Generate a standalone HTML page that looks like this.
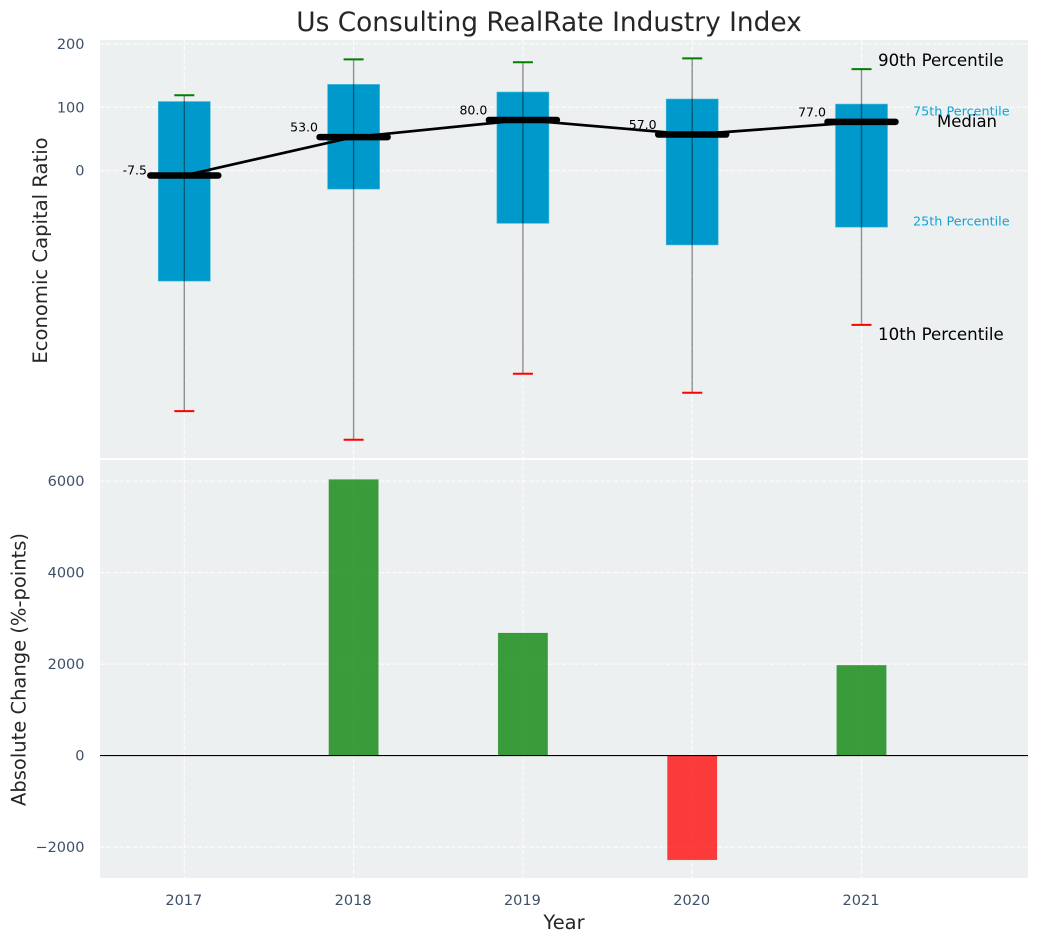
<!DOCTYPE html>
<html>
<head>
<meta charset="utf-8">
<title>Us Consulting RealRate Industry Index</title>
<style>
html,body{margin:0;padding:0;background:#fff;width:1039px;height:942px;overflow:hidden}
svg{display:block}
text{font-family:"DejaVu Sans","Liberation Sans",sans-serif}
</style>
</head>
<body>
<svg id="chart" width="1039" height="942" viewBox="0 0 1039 942" xmlns="http://www.w3.org/2000/svg"></svg>
<script>
const years = [2017, 2018, 2019, 2020, 2021];
const p90 = [119, 175.5, 171, 177, 160];
const p75 = [109, 136, 124, 113, 105];
const medians = [-7.5, 53, 80, 57, 77];
const p25 = [-174, -29, -83, -117, -89];
const p10 = [-379, -424, -320, -350, -243];
const changes = [null, 6035, 2680, -2280, 1975];
const topTicks = [0, 100, 200];
const bottomTicks = [-2000, 0, 2000, 4000, 6000];
const svg = document.getElementById('chart');
const NS = 'http://www.w3.org/2000/svg';
const plotLeft = 100, plotRight = 1028;
const topPanel = {y: 40, h: 418}, bottomPanel = {y: 460, h: 418};
const x = v => 184.3 + (v - 2017) * 169.3;
const yTop = v => 170.7 - v * 0.6345;
const yBottom = v => 755.6 - v * 0.04575;
const tickColor = '#3d5068';

function add(tag, attrs, text) {
  const el = document.createElementNS(NS, tag);
  for (const k in attrs) el.setAttribute(k, attrs[k]);
  if (text !== undefined) el.textContent = text;
  svg.appendChild(el);
  return el;
}

let el;
el = add('rect', {x: plotLeft, y: topPanel.y, width: plotRight - plotLeft, height: topPanel.h, fill: '#ecf0f1'});


el = add('rect', {x: plotLeft, y: bottomPanel.y, width: plotRight - plotLeft, height: bottomPanel.h, fill: '#ecf0f1'});



const gridAttrs = {stroke: '#fff', 'stroke-width': 1.2, 'stroke-dasharray': '4.5 2', opacity: 0.85};
topTicks.forEach(t => {
  el = add('line', {x1: plotLeft, x2: plotRight, y1: yTop(t), y2: yTop(t), ...gridAttrs});
  
  
  el = add('text', {x: 84.5, y: yTop(t) + 5, 'text-anchor': 'end', 'font-size': 14.5, fill: tickColor}, String(t));
  
  
});
bottomTicks.forEach(t => {
  el = add('line', {x1: plotLeft, x2: plotRight, y1: yBottom(t), y2: yBottom(t), ...gridAttrs});
  
  
  el = add('text', {x: 84.5, y: yBottom(t) + 5, 'text-anchor': 'end', 'font-size': 14.5, fill: tickColor}, String(t).replace('-', '\u2212'));
  
  
});
years.forEach(yr => {
  el = add('line', {x1: x(yr), x2: x(yr), y1: topPanel.y, y2: topPanel.y + topPanel.h, ...gridAttrs});
  
  
  el = add('line', {x1: x(yr), x2: x(yr), y1: bottomPanel.y, y2: bottomPanel.y + bottomPanel.h, ...gridAttrs});
  
  
  el = add('text', {x: x(yr) - 0.5, y: 905, 'text-anchor': 'middle', 'font-size': 14.5, fill: tickColor}, String(yr));
  
  
});

// Boxes, whiskers and caps
years.forEach((yr, i) => {
  const cx = x(yr);
  el = add('rect', {x: cx - 26, y: yTop(p75[i]), width: 52, height: yTop(p25[i]) - yTop(p75[i]), fill: '#0099cc', stroke: '#4db8dc', 'stroke-width': 0.6});
  
  
  el = add('line', {x1: cx, x2: cx, y1: yTop(p90[i]), y2: yTop(p10[i]), stroke: '#000', 'stroke-opacity': 0.42, 'stroke-width': 1.4});
  
  
  el = add('line', {x1: cx - 10, x2: cx + 10, y1: yTop(p90[i]), y2: yTop(p90[i]), stroke: '#008000', 'stroke-width': 2});
  
  
  el = add('line', {x1: cx - 10, x2: cx + 10, y1: yTop(p10[i]), y2: yTop(p10[i]), stroke: '#ff0000', 'stroke-width': 2});
  
  
});

// Median connector and median bars
el = add('polyline', {points: years.map((yr, i) => x(yr) + ',' + yTop(medians[i])).join(' '), fill: 'none', stroke: '#000', 'stroke-width': 2.7});


years.forEach((yr, i) => {
  const cx = x(yr);
  const my = yTop(medians[i]);
  el = add('line', {x1: cx - 34, x2: cx + 34, y1: my, y2: my, stroke: '#000', 'stroke-width': 6.5, 'stroke-linecap': 'round'});
  
  
  const off = medians[i] < 0 ? 1 : 5.5;
  el = add('text', {x: cx - 49.5, y: my - off, 'text-anchor': 'middle', 'font-size': 12.5, fill: '#000'}, medians[i].toFixed(1));
  
  
});

// Change bars
years.forEach((yr, i) => {
  if (changes[i] === null) return;
  const cx = x(yr);
  const y0 = yBottom(0), y1 = yBottom(changes[i]);
  const col = changes[i] >= 0 ? '#008000' : '#ff0000';
  el = add('rect', {x: cx - 24.8, y: Math.min(y0, y1), width: 49.6, height: Math.abs(y1 - y0), fill: col, 'fill-opacity': 0.76, stroke: col, 'stroke-opacity': 0.2, 'stroke-width': 0.6});
  
  
});
el = add('line', {x1: plotLeft, x2: plotRight, y1: yBottom(0), y2: yBottom(0), stroke: '#000', 'stroke-width': 1.1});


</script>
<script>
const annotations = [
  ['Us Consulting RealRate Industry Index', 549, 31, 'middle', 26.4, '#262626', 'chart-title', 0],
  ['Economic Capital Ratio', 47, 250.5, 'middle', 19.6, '#262626', 'top-y-axis-title', -90],
  ['Absolute Change (%-points)', 25.5, 669.5, 'middle', 19.5, '#262626', 'bottom-y-axis-title', -90],
  ['Year', 564, 929, 'middle', 19.45, '#262626', 'x-axis-title', 0],
  ['90th Percentile', 878, 66, 'start', 16.67, '#000', 'p90-annotation', 0],
  ['10th Percentile', 878, 340, 'start', 16.67, '#000', 'p10-annotation', 0],
  ['Median', 937, 127, 'start', 16.5, '#000', 'median-annotation', 0],
  ['75th Percentile', 913, 115.5, 'start', 12.8, '#12a3d3', 'p75-annotation', 0],
  ['25th Percentile', 913, 225.5, 'start', 12.8, '#12a3d3', 'p25-annotation', 0]
];
annotations.forEach(a => {
  const t = document.createElementNS('http://www.w3.org/2000/svg', 'text');
  t.textContent = a[0];
  t.setAttribute('x', a[1]);
  t.setAttribute('y', a[2]);
  t.setAttribute('text-anchor', a[3]);
  t.setAttribute('font-size', a[4]);
  t.setAttribute('fill', a[5]);
  if (a[7]) t.setAttribute('transform', 'rotate(' + a[7] + ' ' + a[1] + ' ' + a[2] + ')');
  
  
  document.getElementById('chart').appendChild(t);
});
</script>
</body>
</html>
